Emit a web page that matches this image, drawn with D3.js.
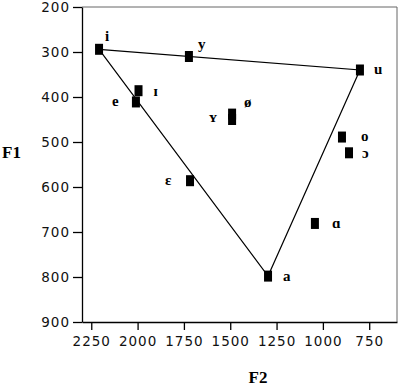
<!DOCTYPE html>
<html lang="en">
<head>
    <meta charset="UTF-8"/>
    <title>F1 / F2 vowel chart</title>
    <script src="https://d3js.org/d3.v7.min.js" charset="utf-8"></script>
    <style type="text/css">
        body { margin: 0; background: #fff; }
        .tick text {
            font-family: "DejaVu Sans", sans-serif;
            font-size: 13.5px;
            letter-spacing: 1px;
            fill: #111;
        }
        .axis path, .axis line { stroke: #000; stroke-width: 1.3px; }
        .vlabel {
            font-family: "Liberation Serif", serif;
            font-weight: bold;
            font-size: 15px;
        }
        .title {
            font-family: "Liberation Serif", serif;
            font-weight: bold;
            font-size: 17px;
        }
    </style>
</head>
<body>
<div id="chart"></div>
<script type="text/javascript">

    // vowels, F2 (Hz) and F1 (Hz)
    var vowels = ["i", "y", "u", "ɪ", "e", "ε", "ø", "ʏ", "o", "ɔ", "ɑ", "a"];
    var f2 = [2208, 1723, 800, 1995, 2009, 1717, 1490, 1490, 897, 859, 1043, 1296];
    var f1 = [294, 310, 340, 386, 411, 586, 438, 450, 489, 524, 681, 798];
    var triangle = ["i", "a", "u", "i"];
    var xTicks = [2250, 2000, 1750, 1500, 1250, 1000, 750];
    var yTicks = [200, 300, 400, 500, 600, 700, 800, 900];

    // label offsets from the marker (layout only)
    var labelOffset = {
        "i": [6, -8], "y": [9, -8], "u": [14, 4], "ɪ": [15, 5], "e": [-24, 4],
        "ε": [-25, 4], "ø": [12, -7], "ʏ": [-23, 2], "o": [19, 4], "ɔ": [13, 5],
        "ɑ": [17, 5], "a": [15, 5]
    };

    var width = 400, height = 388;
    var margin = {top: 7, right: 3, bottom: 66, left: 82};

    var svg = d3.select("#chart")
        .append("svg")
        .attr("width", width)
        .attr("height", height);

    var x = d3.scaleLinear().domain([2300, 600]).range([margin.left, width - margin.right]);
    var y = d3.scaleLinear().domain([200, 900]).range([margin.top, height - margin.bottom]);

    var data = vowels.map(function (v, i) { return {v: v, f2: f2[i], f1: f1[i]}; });
    var byName = {};
    data.forEach(function (d) { byName[d.v] = d; });

    // frame: top and right
    svg.append("path")
        .attr("d", "M" + x(2300) + "," + y(200) + "H" + x(600) + "V" + y(900))
        .attr("fill", "none")
        .attr("stroke", "#666")
        .attr("stroke-width", 1);

    svg.append("g")
        .attr("class", "axis")
        .attr("transform", "translate(" + margin.left + ",0)")
        .call(d3.axisLeft(y).tickValues(yTicks).tickFormat(d3.format("d"))
            .tickSize(9).tickPadding(3).tickSizeOuter(0));

    svg.append("g")
        .attr("class", "axis")
        .attr("transform", "translate(0," + (height - margin.bottom) + ")")
        .call(d3.axisBottom(x).tickValues(xTicks).tickFormat(d3.format("d"))
            .tickSize(8).tickPadding(6).tickSizeOuter(0));

    // triangle i - a - u
    var line = d3.line()
        .x(function (d) { return x(byName[d].f2); })
        .y(function (d) { return y(byName[d].f1); });

    svg.append("path")
        .attr("d", line(triangle))
        .attr("fill", "none")
        .attr("stroke", "#000")
        .attr("stroke-width", 1.2);

    svg.selectAll("rect.pt")
        .data(data)
        .enter()
        .append("rect")
        .attr("class", "pt")
        .attr("x", function (d) { return x(d.f2) - 4; })
        .attr("y", function (d) { return y(d.f1) - 5.5; })
        .attr("width", 8)
        .attr("height", 11)
        .attr("fill", "#000");

    svg.selectAll("text.vlabel")
        .data(data)
        .enter()
        .append("text")
        .attr("class", "vlabel")
        .attr("x", function (d) { return x(d.f2) + labelOffset[d.v][0]; })
        .attr("y", function (d) { return y(d.f1) + labelOffset[d.v][1]; })
        .text(function (d) { return d.v; });

    svg.append("text")
        .attr("class", "title")
        .attr("x", 2)
        .attr("y", 158)
        .text("F1");

    svg.append("text")
        .attr("class", "title")
        .attr("x", 258)
        .attr("y", 383)
        .attr("text-anchor", "middle")
        .text("F2");
</script>
</body>
</html>
